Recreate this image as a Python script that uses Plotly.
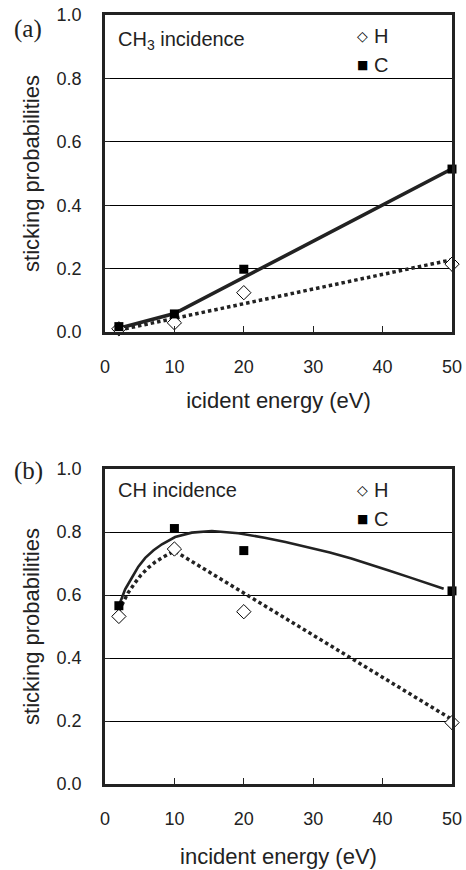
import plotly.graph_objects as go

# Measured sticking probabilities at each incident energy (eV)
energy = [2, 10, 20, 50]
ch3_H = [0.010, 0.029, 0.124, 0.214]
ch3_C = [0.017, 0.057, 0.198, 0.514]
ch_H = [0.532, 0.746, 0.547, 0.195]
ch_C = [0.566, 0.811, 0.741, 0.613]

# Guide-to-the-eye trend curves
ch3_fit_C_x = [2, 10, 50]
ch3_fit_C_y = [0.012, 0.058, 0.515]
ch3_fit_H_x = [2, 50]
ch3_fit_H_y = [0.006, 0.228]
ch_fit_C_x = [2.0, 2.9, 3.85, 4.8, 5.8, 7.0, 8.2, 10.1, 12.5, 15.4, 19.2, 23.0, 26.0,
              29.0, 32.4, 35.5, 38.2, 41.0, 43.9, 46.5, 48.8]
ch_fit_C_y = [0.566, 0.618, 0.654, 0.690, 0.718, 0.742, 0.761, 0.784, 0.798, 0.803, 0.796,
              0.782, 0.768, 0.752, 0.735, 0.716, 0.698, 0.677, 0.656, 0.637, 0.620]
ch_fit_H_x = [2.0, 2.4, 3.3, 4.3, 5.2, 6.2, 7.2, 8.2, 9.1, 10.0, 50.0]
ch_fit_H_y = [0.550, 0.569, 0.606, 0.638, 0.664, 0.686, 0.704, 0.718, 0.730, 0.740, 0.205]

x_ticks = [0, 10, 20, 30, 40, 50]
y_ticks = [0.0, 0.2, 0.4, 0.6, 0.8, 1.0]

W, H = 466, 870
ML, MR, MT, MB = 105, 14, 15, 86
SANS = "Liberation Sans, Arial, Helvetica, sans-serif"
SERIF = "Liberation Serif, Times New Roman, serif"
INK = "#222222"

PLOT_W = W - ML - MR
PLOT_H = H - MT - MB


def fx(p):
    # page pixel column -> paper x
    return (p - ML) / PLOT_W


def fy(p):
    # page pixel row -> paper y
    return (H - MB - p) / PLOT_H


def dom(top_px, bottom_px):
    # vertical domain of a panel given its pixel edges on the page
    return [fy(bottom_px), fy(top_px)]


fig = go.Figure()

panels = [
    dict(xa="x", ya="y", H=ch3_H, C=ch3_C,
         fcx=ch3_fit_C_x, fcy=ch3_fit_C_y, fhx=ch3_fit_H_x, fhy=ch3_fit_H_y, cw=3.6),
    dict(xa="x2", ya="y2", H=ch_H, C=ch_C,
         fcx=ch_fit_C_x, fcy=ch_fit_C_y, fhx=ch_fit_H_x, fhy=ch_fit_H_y, cw=2.6),
]

for p in panels:
    fig.add_trace(go.Scatter(x=p["fhx"], y=p["fhy"], mode="lines", xaxis=p["xa"], yaxis=p["ya"],
                             line=dict(color=INK, width=3.5, dash="3.5px,3px"),
                             showlegend=False, hoverinfo="skip"))
    fig.add_trace(go.Scatter(x=p["fcx"], y=p["fcy"], mode="lines", xaxis=p["xa"], yaxis=p["ya"],
                             line=dict(color=INK, width=p["cw"]),
                             showlegend=False, hoverinfo="skip"))
    fig.add_trace(go.Scatter(x=energy, y=p["H"], mode="markers", xaxis=p["xa"], yaxis=p["ya"],
                             marker=dict(symbol="diamond", size=11, color="white",
                                         line=dict(color="black", width=1)),
                             cliponaxis=False, name="H", showlegend=False))
    fig.add_trace(go.Scatter(x=energy, y=p["C"], mode="markers", xaxis=p["xa"], yaxis=p["ya"],
                             marker=dict(symbol="square", size=9, color="black",
                                         line=dict(color="black", width=0)),
                             cliponaxis=False, name="C", showlegend=False))

xcommon = dict(range=[0, 50], tickvals=x_ticks, ticks="inside", ticklen=6, tickwidth=1,
               tickcolor=INK, showline=True, linewidth=2.5, linecolor=INK, mirror=True,
               showgrid=False, zeroline=False, ticklabelstandoff=17, automargin=False,
               tickfont=dict(family=SANS, size=18, color=INK), domain=[0, 1])
ycommon = dict(range=[0, 1], tickvals=y_ticks, tickformat=".1f", ticks="inside", ticklen=5,
               tickwidth=1, tickcolor=INK, showline=True, linewidth=2.5, linecolor=INK,
               mirror=True, showgrid=True, gridcolor="black", gridwidth=1, zeroline=False,
               ticklabelstandoff=17, automargin=False,
               tickfont=dict(family=SANS, size=18, color=INK))
tfont = dict(family=SANS, size=22, color=INK)

fig.update_layout(
    width=W, height=H, margin=dict(l=ML, r=MR, t=MT, b=MB, autoexpand=False),
    paper_bgcolor="white", plot_bgcolor="white", showlegend=False,
    xaxis=dict(xcommon, anchor="y",
               title=dict(text="icident energy (eV)", standoff=17, font=tfont)),
    yaxis=dict(ycommon, anchor="x", domain=dom(15, 332),
               title=dict(text="sticking probabilities", standoff=11, font=tfont)),
    xaxis2=dict(xcommon, anchor="y2",
                title=dict(text="incident energy (eV)", standoff=21, font=tfont)),
    yaxis2=dict(ycommon, anchor="x2", domain=dom(469, 784),
                title=dict(text="sticking probabilities", standoff=11, font=tfont)),
)

ann = []
# panel labels
ann.append(dict(text="(a)", x=fx(28), y=fy(29), font=dict(family=SERIF, size=25, color=INK)))
ann.append(dict(text="(b)", x=fx(28), y=fy(471), font=dict(family=SERIF, size=25, color=INK)))
# panel captions
ann.append(dict(text="CH<sub>3</sub> incidence", x=fx(116), y=fy(40), xanchor="left",
                font=dict(family=SANS, size=20, color=INK)))
ann.append(dict(text="CH incidence", x=fx(116), y=fy(490), xanchor="left",
                font=dict(family=SANS, size=20, color=INK)))
# keys
for top in (15, 469):
    for dy, sym, lab, ssize in ((21, "◇", "H", 14), (50, "■", "C", 12)):
        ann.append(dict(text=sym, x=fx(362), y=fy(top + dy), xanchor="center",
                        font=dict(family="DejaVu Sans, sans-serif", size=ssize, color="black")))
        ann.append(dict(text=lab, x=fx(372), y=fy(top + dy), xanchor="left",
                        font=dict(family=SANS, size=20, color=INK)))

for a in ann:
    a.setdefault("xanchor", "center")
    a.update(xref="paper", yref="paper", yanchor="middle", showarrow=False)
fig.update_layout(annotations=ann)

fig.write_html("out.html")
